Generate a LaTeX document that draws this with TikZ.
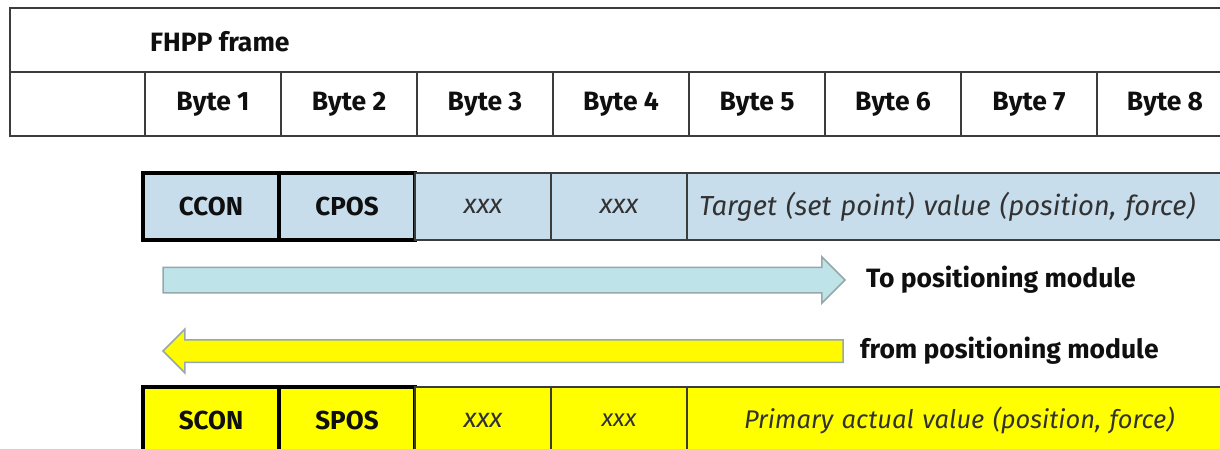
\documentclass[tikz,border=0pt]{standalone}
\usepackage{fontspec}
\setmainfont{Fira Sans}
\usetikzlibrary{shapes.arrows,positioning}
\definecolor{lineclr}{RGB}{60,60,60}
\definecolor{txtclr}{RGB}{15,15,15}
\definecolor{itclr}{RGB}{50,50,50}
\definecolor{outfill}{RGB}{199,221,236}
\definecolor{infill}{RGB}{255,255,0}
\definecolor{tofill}{RGB}{190,227,232}
\definecolor{frmfill}{RGB}{255,250,0}
\definecolor{arrbdr}{RGB}{150,168,170}
\tikzset{
  %% frame table cell
  fcell/.style={rectangle,draw=lineclr,line width=1.3pt,outer sep=0pt,
    inner sep=0pt,minimum width=136pt,minimum height=64pt,
    font=\fontsize{26.5}{30}\selectfont\bfseries,text=txtclr},
  %% data cell (thin border)
  dcell/.style={rectangle,draw=lineclr,line width=1.2pt,fill=#1,outer sep=0pt,
    inner sep=0pt,minimum width=136pt,minimum height=67pt,
    font=\fontsize{27}{30}\selectfont\itshape,text=itclr},
  %% control/status word cell (heavy border)
  wcell/.style={rectangle,draw=black,line width=4pt,fill=#1,outer sep=0pt,
    inner sep=0pt,minimum width=136pt,minimum height=67pt,
    font=\fontsize{26}{30}\selectfont\bfseries,text=txtclr},
  %% direction arrows
  dirarr/.style={single arrow,draw=arrbdr,line width=1.5pt,fill=#1,
    inner sep=0pt,outer sep=0pt,single arrow head extend=10.5pt},
  lbl/.style={font=\fontsize{26.5}{30}\selectfont\bfseries,text=txtclr,inner sep=0pt},
}
\begin{document}
\begin{tikzpicture}[x=1pt,y=-1pt]
  \useasboundingbox (0,0) rectangle (1220,448);
  \clip (0,0) rectangle (1220,448);
  \fill[white] (0,0) rectangle (1220,448);

  %% FHPP frame header
  \node[fcell,minimum width=1240pt,anchor=north west] (frame) at (10,8) {};
  \node[lbl,anchor=west] (frametxt) at (150,42) {FHPP frame};
  \node[fcell,minimum width=135pt,anchor=north west] (b0) at (10,72) {};
  \foreach \i [count=\j from 0] in {1,...,8}
    \node[fcell,right=0pt of b\j] (b\i) {Byte \i};

  %% output data (to module)
  \node[wcell=outfill,anchor=north west] (ccon) at (143,173) {CCON};
  \node[wcell=outfill,right=0pt of ccon] (cpos) {CPOS};
  \node[dcell=outfill,right=0pt of cpos] (ox3) {xxx};
  \node[dcell=outfill,right=0pt of ox3] (ox4) {xxx};
  \node[dcell=outfill,right=0pt of ox4,minimum width=560pt,text width=536pt,align=left,
    font=\fontsize{27.5}{30}\selectfont\itshape] (tval)
    {Target (set point) value (position, force)};

  %% direction arrows
  \node[dirarr=tofill,minimum height=682pt,anchor=tail,inner ysep=12pt] (toarr) at (163,280) {};
  \node[lbl,right=21pt of toarr.tip] (totxt) {To positioning module};
  \node[dirarr=frmfill,minimum height=680pt,shape border rotate=180,anchor=tail,inner ysep=10.5pt] (frmarr) at (843,351) {};
  \node[lbl,right=17pt of frmarr.tail] (frmtxt) {from positioning module};

  %% input data (from module)
  \node[wcell=infill,anchor=north west] (scon) at (143,387) {SCON};
  \node[wcell=infill,right=0pt of scon] (spos) {SPOS};
  \node[dcell=infill,right=0pt of spos] (ix3) {xxx};
  \node[dcell=infill,right=0pt of ix3,font=\fontsize{24}{30}\selectfont\itshape] (ix4) {xxx};
  \node[dcell=infill,right=0pt of ix4,minimum width=560pt,text width=536pt,align=left,
    font=\fontsize{25.5}{30}\selectfont\itshape] (aval)
    {\hspace*{45pt}Primary actual value (position, force)};
\end{tikzpicture}
\end{document}
